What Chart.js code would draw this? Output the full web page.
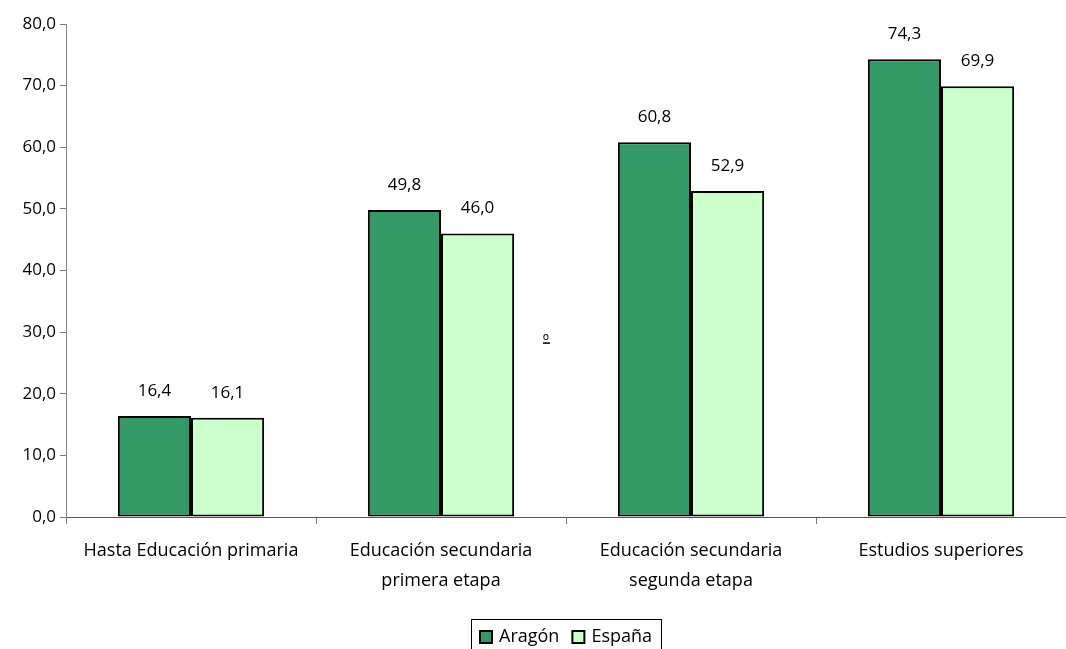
<!DOCTYPE html>
<html>
<head>
<meta charset="utf-8">
<script src="https://cdn.jsdelivr.net/npm/chart.js@4"></script>
<style>
  html, body { margin: 0; padding: 0; background: #fff; }
  #wrap { width: 1066px; height: 649px; position: relative; }
</style>
</head>
<body>
<div id="wrap"><canvas id="chart"></canvas></div>
<script>
// categories and values
var categories = [
    "Hasta Educación primaria",
    ["Educación secundaria", "primera etapa"],
    ["Educación secundaria", "segunda etapa"],
    "Estudios superiores"
];
var aragon = [16.4, 49.8, 60.8, 74.3];
var espana = [16.1, 46.0, 52.9, 69.9];
var seriesNames = ["Aragón", "España"];
var yTicks = [0, 10, 20, 30, 40, 50, 60, 70, 80];

var FONT = "'Open Sans', sans-serif";

function fmt(v) {
    return v.toFixed(1).replace(".", ",");
}

// values above the bars
var valueLabels = {
    id: 'valueLabels',
    afterDatasetsDraw: function(chart) {
        var ctx = chart.ctx;
        ctx.save();
        ctx.font = "17px " + FONT;
        ctx.fillStyle = "#000";
        ctx.textAlign = "center";
        ctx.textBaseline = "middle";
        chart.data.datasets.forEach(function(ds, i) {
            chart.getDatasetMeta(i).data.forEach(function(bar, j) {
                ctx.fillText(fmt(ds.data[j]), bar.x, bar.y - 25);
            });
        });
        // stray "º" that sits in the original picture
        var ox = chart.scales.x.getPixelForValue(1.5) - 20;
        var oy = chart.scales.y.getPixelForValue(28.5);
        ctx.font = "17px " + FONT;
        ctx.fillText("º", ox, oy);
        ctx.fillRect(ox - 3, oy + 1, 7, 1.5);
        ctx.restore();
    }
};

// legend drawn under the chart, with a box round it
var boxLegend = {
    id: 'boxLegend',
    afterDraw: function(chart) {
        var ctx = chart.ctx;
        var area = chart.chartArea;
        ctx.save();
        ctx.font = "18px " + FONT;
        ctx.textBaseline = "middle";
        ctx.textAlign = "left";
        var sq = 12, gapText = 7, gapItem = 13, padX = 9;
        var widths = seriesNames.map(function(n) { return sq + gapText + ctx.measureText(n).width; });
        var total = widths.reduce(function(a, b) { return a + b; }, 0) + gapItem * (widths.length - 1);
        var cx = (area.left + chart.width) / 2;
        var x = Math.round(cx - total / 2);
        var cy = 637;
        ctx.strokeStyle = "#000";
        ctx.lineWidth = 1;
        ctx.strokeRect(x - padX + 0.5, 619.5, total + padX * 2, 40);
        chart.data.datasets.forEach(function(ds, i) {
            ctx.fillStyle = ds.backgroundColor;
            ctx.fillRect(x, cy - sq / 2, sq, sq);
            ctx.lineWidth = 2;
            ctx.strokeRect(x, cy - sq / 2, sq, sq);
            ctx.fillStyle = "#000";
            ctx.fillText(seriesNames[i], x + sq + gapText, cy);
            x += widths[i] + gapItem;
        });
        ctx.restore();
    }
};

new Chart(document.getElementById("chart"), {
    type: 'bar',
    data: {
        labels: categories,
        datasets: [{
            label: seriesNames[0],
            data: aragon,
            backgroundColor: "#339966",
            borderColor: "#000",
            borderWidth: 2,
            borderSkipped: false,
            categoryPercentage: 0.585,
            barPercentage: 1.0
        }, {
            label: seriesNames[1],
            data: espana,
            backgroundColor: "#CCFFCC",
            borderColor: "#000",
            borderWidth: 2,
            borderSkipped: false,
            categoryPercentage: 0.585,
            barPercentage: 1.0
        }]
    },
    options: {
        responsive: true,
        maintainAspectRatio: false,
        animation: false,
        layout: { padding: { top: 24, right: 0, left: 0, bottom: 32 } },
        plugins: {
            tooltip: { enabled: false },
            legend: { display: false }
        },
        scales: {
            x: {
                grid: { display: true, drawOnChartArea: false, drawTicks: true, tickLength: 7, color: "#777", offset: true },
                border: { color: "#555", width: 1 },
                ticks: { font: { family: FONT, size: 18, lineHeight: 1.65 }, color: "#000", maxRotation: 0, padding: 12 },
                afterFit: function(axis) { axis.height = 100; }
            },
            y: {
                min: 0,
                max: 80,
                afterBuildTicks: function(axis) {
                    axis.ticks = yTicks.map(function(v) { return { value: v }; });
                },
                afterFit: function(axis) { axis.width = 66; },
                grid: { display: true, drawOnChartArea: false, drawTicks: true, tickLength: 6, color: "#777" },
                border: { color: "#888", width: 1 },
                ticks: {
                    font: { family: FONT, size: 17 },
                    color: "#000",
                    padding: 4,
                    callback: function(v) { return fmt(v); }
                }
            }
        }
    },
    plugins: [valueLabels, boxLegend]
});
</script>
</body>
</html>
